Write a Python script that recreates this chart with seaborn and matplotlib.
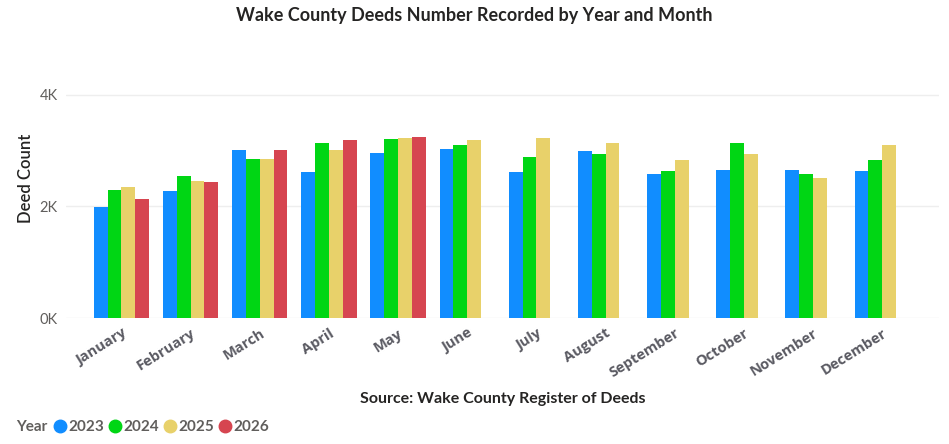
import pandas as pd
import numpy as np
import matplotlib.pyplot as plt
import seaborn as sns
from matplotlib.lines import Line2D

months = ["January", "February", "March", "April", "May", "June",
          "July", "August", "September", "October", "November", "December"]
years = ["2023", "2024", "2025", "2026"]

# deed counts (2026 only has Jan-May so far)
deeds_2023 = [1990, 2277, 3012, 2618, 2958, 3030, 2618, 2994, 2582, 2654, 2654, 2636]
deeds_2024 = [2295, 2546, 2851, 3138, 3209, 3102, 2887, 2940, 2636, 3138, 2582, 2833]
deeds_2025 = [2349, 2456, 2851, 3012, 3227, 3191, 3227, 3138, 2833, 2940, 2510, 3102]
deeds_2026 = [2134, 2438, 3012, 3191, 3245]

colors = ["#118DFF", "#00D614", "#E8D16A", "#D64550"]

rows = []
for yr, vals in zip(years, [deeds_2023, deeds_2024, deeds_2025, deeds_2026]):
    for m, v in zip(months, vals):
        rows.append({"Month": m, "Year": yr, "Deeds": v})
df = pd.DataFrame(rows)

sns.set_style("white")
plt.rcParams['font.family'] = ['Lato', 'DejaVu Sans']

fig = plt.figure(figsize=(9.49, 4.44), dpi=100)
ax = fig.add_axes([66/949, (444-318)/444, 873/949, (318-39)/444])

sns.barplot(data=df, x="Month", y="Deeds", hue="Year", order=months,
            hue_order=years, palette=colors, width=0.8, gap=0,
            saturation=1, errorbar=None, ax=ax, legend=False, linewidth=0)

ax.set_ylim(0, 5000)
ax.set_xlim(-0.80, 11.82)
ax.set_yticks([0, 2000, 4000])
ax.set_yticklabels(["0K", "2K", "4K"], color="#605E5C", fontsize=10.5)
ax.yaxis.grid(True, color="#EEEEEE", linewidth=1)
ax.set_axisbelow(True)
for s in ax.spines.values():
    s.set_visible(False)
ax.tick_params(axis="both", length=0, pad=6)

ax.set_xticks(range(len(months)))
ax.set_xticklabels(months, rotation=32, ha="right", rotation_mode="anchor",
                   fontsize=10.5, fontweight="bold", color="#5A5A62",
                   family=["Open Sans", "DejaVu Sans"])
ax.set_xlabel("Source: Wake County Register of Deeds", fontsize=11.5,
              fontweight="bold", color="#252423", labelpad=8)
ax.set_ylabel("Deed Count", fontsize=12, fontweight="semibold",
              color="#252423", labelpad=4)

fig.text(0.5, 1 - 15/444, "Wake County Deeds Number Recorded by Year and Month",
         ha="center", va="center", fontsize=13, fontweight="bold", color="#252423")

# legend at bottom-left
fig.text(16/949, 1 - 427/444, "Year", ha="left", va="center", fontsize=11,
         fontweight="bold", color="#605E5C")
handles = [Line2D([], [], marker="o", linestyle="", markersize=9,
                  markerfacecolor=c, markeredgecolor=c) for c in colors]
fig.legend(handles, years, loc="center left", bbox_to_anchor=(52/949, 1 - 427/444),
           ncol=4, frameon=False, handletextpad=0.0, columnspacing=0.15,
           handlelength=1.1, borderaxespad=0, borderpad=0,
           prop={"size": 11, "weight": "bold"}, labelcolor="#605E5C")

plt.savefig("out.png", dpi=100)
